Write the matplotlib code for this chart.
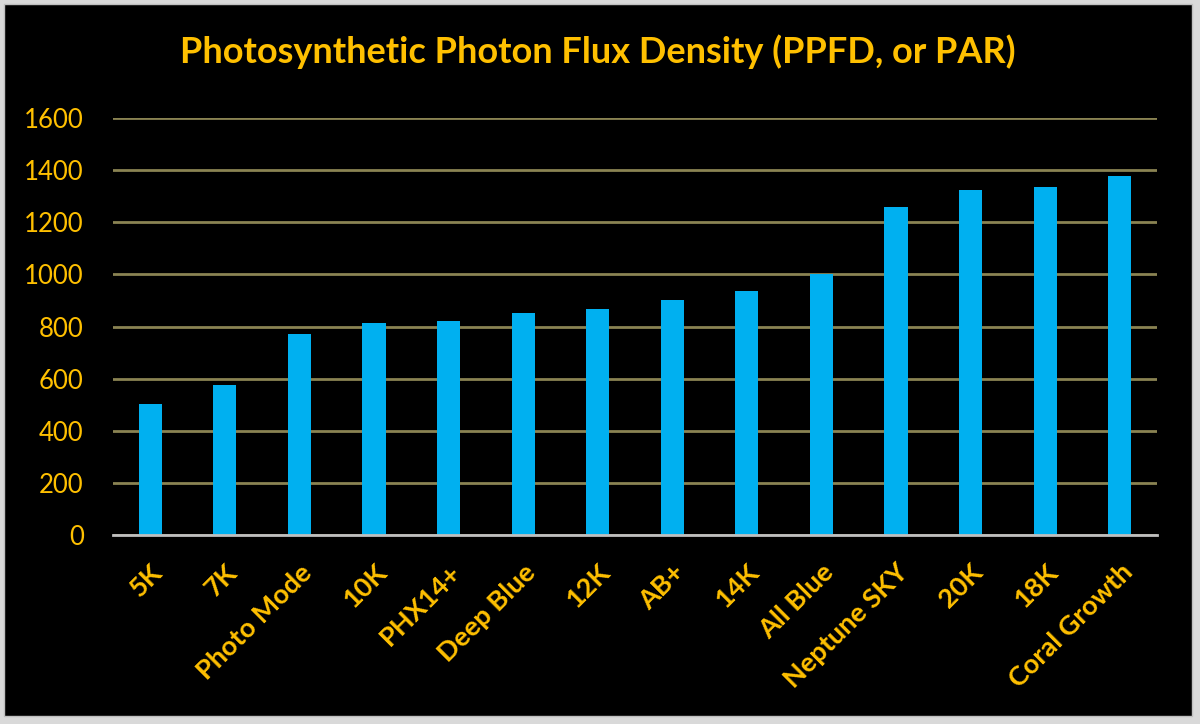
import matplotlib.pyplot as plt
from matplotlib.patches import Rectangle

# Datos del gráfico
categories = ['5K', '7K', 'Photo Mode', '10K', 'PHX14+', 'Deep Blue', '12K', 'AB+',
              '14K', 'All Blue', 'Neptune SKY', '20K', '18K', 'Coral Growth']
ppfd = [502, 575, 770, 812, 820, 850, 867, 900, 935, 1000, 1258, 1322, 1337, 1378]
yticks = [0, 200, 400, 600, 800, 1000, 1200, 1400, 1600]

orange = '#FFC000'
plt.rcParams['font.family'] = ['Lato', 'DejaVu Sans']

fig = plt.figure(figsize=(12, 7.24), dpi=100)
fig.patch.set_facecolor('#d9d9d9')
# Fondo negro del gráfico con borde
fig.patches.append(Rectangle((4 / 1200, 1 - 716 / 724), 1188 / 1200, 712 / 724,
                             transform=fig.transFigure, facecolor='black',
                             edgecolor='#bfbfbf', linewidth=1, zorder=-1))

ax = fig.add_axes([113 / 1200, 1 - 535 / 724, 1044 / 1200, 417 / 724])
ax.set_facecolor('black')
x = range(len(categories))
ax.bar(x, ppfd, width=0.31, color='#00B0F0', zorder=3)

ax.set_xlim(-0.5, len(categories) - 0.5)
ax.set_ylim(0, 1600)
ax.set_yticks(yticks)
ax.set_yticklabels([str(v) for v in yticks], color=orange, fontsize=18.5)
ax.set_xticks(list(x))
ax.set_xticklabels(categories, rotation=45, ha='right', va='top', rotation_mode='anchor',
                   color=orange, fontsize=19.5, fontweight='bold')
ax.tick_params(axis='both', length=0)
ax.tick_params(axis='y', pad=21)
ax.tick_params(axis='x', pad=18)

ax.grid(axis='y', color='#8a8352', linewidth=2, zorder=0)
for s in ['top', 'right', 'left']:
    ax.spines[s].set_visible(False)
ax.spines['bottom'].set_color('#bfbfbf')
ax.spines['bottom'].set_linewidth(2)
ax.spines['bottom'].set_zorder(4)

fig.text(0.498, 1 - 52 / 724, 'Photosynthetic Photon Flux Density (PPFD, or PAR)',
         ha='center', va='center', color=orange, fontsize=26, fontweight='bold')

fig.savefig('out.png', dpi=100, facecolor=fig.get_facecolor())
